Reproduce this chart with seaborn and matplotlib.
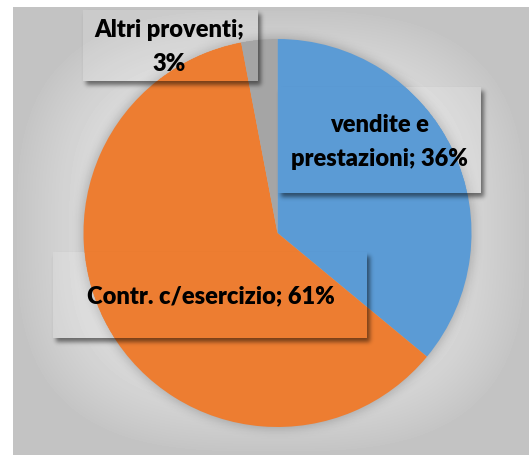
import numpy as np
import matplotlib
matplotlib.use("Agg")
import matplotlib.pyplot as plt
import seaborn as sns

# Revenue composition
categories = ["vendite e prestazioni", "Contr. c/esercizio", "Altri proventi"]
display_names = ["vendite e\nprestazioni", "Contr. c/esercizio", "Altri proventi"]
name_value_sep = [" ", " ", "\n"]
shares = [36, 61, 3]
slice_colors = ["#5B9BD5", "#ED7D31", "#A5A5A5"]

sns.set_theme(style="white")
plt.rcParams["font.family"] = ["Lato", "DejaVu Sans"]

W, H = 529, 455
fig = plt.figure(figsize=(W / 100, H / 100), dpi=100)
fig.patch.set_facecolor("white")


def blur(img, sigma):
    r = int(3 * sigma)
    k = np.exp(-0.5 * (np.arange(-r, r + 1) / sigma) ** 2)
    k /= k.sum()
    out = np.apply_along_axis(lambda v: np.convolve(v, k, mode="same"), 0, img)
    out = np.apply_along_axis(lambda v: np.convolve(v, k, mode="same"), 1, out)
    return out


yy, xx = np.mgrid[0:H, 0:W] + 0.5

# background panel with soft gradient
bg = fig.add_axes([0, 0, 1, 1], zorder=0)
bg.axis("off")
px0, py0, px1, py1 = 13, 7, W, H
gx, gy = np.meshgrid(np.linspace(-1, 1, px1 - px0), np.linspace(-1, 1, py1 - py0))
d = (np.abs(gx) ** 3 + np.abs(gy) ** 3) ** (1 / 3)
shade = 225 - 30 * np.clip((d - 0.5) / 0.5, 0, 1) ** 1.5
bg.imshow(shade / 255, cmap="gray", vmin=0, vmax=1, extent=[px0, px1, py1, py0],
          aspect="auto", interpolation="bilinear", zorder=0)

# pie geometry in pixels
cx, cy, R = 277.5, 233, 194

# soft halo under the pie
disk = (((xx - cx) ** 2 + (yy - cy) ** 2) <= (R + 2) ** 2).astype(float)
halo = blur(disk, 5) * 0.2
halo_rgba = np.zeros((H, W, 4))
halo_rgba[..., 3] = halo
bg.imshow(halo_rgba, extent=[0, W, H, 0], aspect="auto", zorder=1)
bg.set_xlim(0, W)
bg.set_ylim(H, 0)

# pie axes
half = 210
ax = fig.add_axes([(cx - half) / W, (H - cy - half) / H, 2 * half / W, 2 * half / H], zorder=1)
ax.pie(shares, colors=slice_colors, startangle=90, counterclock=False,
       radius=1, wedgeprops=dict(linewidth=0))
ax.set_xlim(-half / R, half / R)
ax.set_ylim(-half / R, half / R)
ax.set_aspect("equal")
ax.axis("off")

# label boxes (pixel coords: x0, y0, x1, y1) and text centres
boxes = [(278, 87, 481, 193), (53, 252, 367, 338), (83, 10, 258, 81)]
centres = [(379, 142), (211, 296), (169, 47)]

ov = fig.add_axes([0, 0, 1, 1], zorder=2)
ov.axis("off")
ov.patch.set_alpha(0)

# drop shadows and light tint of the label boxes
shadow = np.zeros((H, W))
inside = np.zeros((H, W))
for x0, y0, x1, y1 in boxes:
    m = ((xx >= x0 + 3) & (xx <= x1 + 3) & (yy >= y0 + 4) & (yy <= y1 + 4)).astype(float)
    shadow = np.maximum(shadow, m)
    inside = np.maximum(inside, ((xx >= x0) & (xx <= x1) & (yy >= y0) & (yy <= y1)).astype(float))
shadow = blur(shadow, 2.2) * (1 - inside) * 0.5
sh_rgba = np.zeros((H, W, 4))
sh_rgba[..., 3] = shadow
ov.imshow(sh_rgba, extent=[0, W, H, 0], aspect="auto", zorder=1, interpolation="bilinear")

pie_mask = (((xx - cx) ** 2 + (yy - cy) ** 2) <= R ** 2).astype(float)
tint = np.ones((H, W, 4))
tint[..., 3] = inside * (1 - pie_mask) * 0.15
ov.imshow(tint, extent=[0, W, H, 0], aspect="auto", zorder=2, interpolation="bilinear")

for (tx, ty), name, sep, v in zip(centres, display_names, name_value_sep, shares):
    ov.text(tx, ty, f"{name};{sep}{v}%", ha="center", va="center", fontsize=17,
            fontweight="heavy", color="black", linespacing=1.68, zorder=3)

ov.set_xlim(0, W)
ov.set_ylim(H, 0)
fig.savefig("out.png", dpi=100)
